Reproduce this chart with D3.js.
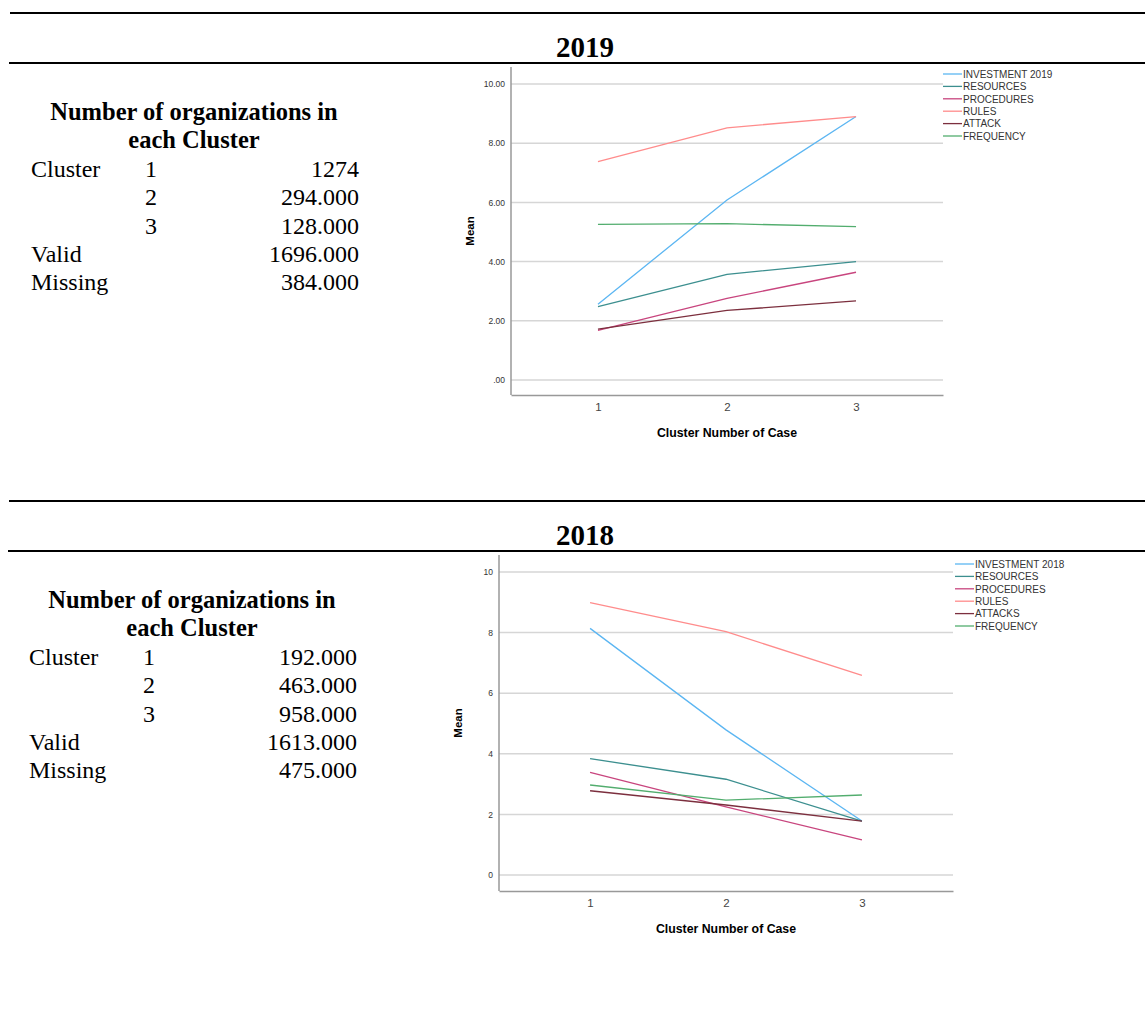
<!DOCTYPE html>
<html><head><meta charset="utf-8">
<script src="https://cdn.jsdelivr.net/npm/d3@7"></script>
<style>body{margin:0;background:#fff}</style>
</head><body>
<svg id="c" width="1145" height="1026"></svg>
<script>
const clusters = [1, 2, 3];
const seriesNames2019 = ["INVESTMENT 2019","RESOURCES","PROCEDURES","RULES","ATTACK","FREQUENCY"];
const seriesNames2018 = ["INVESTMENT 2018","RESOURCES","PROCEDURES","RULES","ATTACKS","FREQUENCY"];
const colors = ["#5cb6f2","#3c8f8f","#c8457e","#ff8c8c","#7c2f3e","#52ad6e"];
const investment2019 = [2.56, 6.08, 8.9];
const resources2019  = [2.48, 3.57, 4.0];
const procedures2019 = [1.68, 2.76, 3.64];
const rules2019      = [7.38, 8.52, 8.9];
const attack2019     = [1.72, 2.35, 2.67];
const frequency2019  = [5.26, 5.28, 5.18];
const investment2018 = [8.14, 4.79, 1.78];
const resources2018  = [3.84, 3.16, 1.78];
const procedures2018 = [3.39, 2.25, 1.16];
const rules2018      = [8.99, 8.03, 6.59];
const attacks2018    = [2.78, 2.31, 1.78];
const frequency2018  = [2.97, 2.47, 2.64];
const yTicks2019 = [0, 2, 4, 6, 8, 10];
const yTicks2018 = [0, 2, 4, 6, 8, 10];
const tableLabels = ["Cluster", "", "", "Valid", "Missing"];
const tableNums = ["1", "2", "3", "", ""];
const tableVals2019 = ["1274", "294.000", "128.000", "1696.000", "384.000"];
const tableVals2018 = ["192.000", "463.000", "958.000", "1613.000", "475.000"];

const svg = d3.select("#c");
const serif = "'Liberation Serif','Times New Roman',serif";
const sans = "Arial,'Liberation Sans',sans-serif";

function section(o) {
  const g = svg.append("g");
  g.append("line").attr("x1", o.r1x).attr("x2", 1145).attr("y1", o.r1y).attr("y2", o.r1y).attr("stroke", "#000").attr("stroke-width", 2);
  g.append("line").attr("x1", o.r2x).attr("x2", 1145).attr("y1", o.r2y).attr("y2", o.r2y).attr("stroke", "#000").attr("stroke-width", 2);
  g.append("text").attr("x", 585).attr("y", o.titleY).attr("text-anchor", "middle")
    .attr("font-family", serif).attr("font-weight", "bold").attr("font-size", 29).text(o.title);
  g.append("text").attr("x", o.tcx).attr("y", o.th1).attr("text-anchor", "middle").attr("font-family", serif)
    .attr("font-weight", "bold").attr("font-size", 24.5).text("Number of organizations in");
  g.append("text").attr("x", o.tcx).attr("y", o.th1 + 28).attr("text-anchor", "middle").attr("font-family", serif)
    .attr("font-weight", "bold").attr("font-size", 24.5).text("each Cluster");
  tableLabels.forEach((l, i) => {
    const y = o.row0 + i * 28.3;
    g.append("text").attr("x", o.tlx).attr("y", y).attr("font-family", serif).attr("font-size", 24).text(l);
    g.append("text").attr("x", o.tnx).attr("y", y).attr("font-family", serif).attr("font-size", 24).text(tableNums[i]);
    g.append("text").attr("x", o.tvx).attr("y", y).attr("text-anchor", "end").attr("font-family", serif).attr("font-size", 24).text(o.vals[i]);
  });
  const x = d3.scalePoint().domain(clusters).range([o.x0, o.x1]).padding(o.pad);
  const y = d3.scaleLinear().domain([0, 10]).range([o.y0v, o.y10v]);
  g.append("g").selectAll("line").data(o.yTicks).join("line")
    .attr("x1", o.x0).attr("x2", o.x1).attr("y1", d => y(d)).attr("y2", d => y(d))
    .attr("stroke", "#d6d6d6").attr("stroke-width", 1.5);
  const ya = g.append("g").attr("transform", `translate(${o.x0},0)`)
    .call(d3.axisLeft(y).tickValues(o.yTicks).tickSize(0).tickPadding(6).tickFormat(o.fmt));
  ya.select(".domain").remove();
  ya.selectAll("text").attr("font-family", sans).attr("font-size", 8.5).attr("fill", "#333");
  g.append("line").attr("x1", o.x0).attr("x2", o.x0).attr("y1", o.axTop).attr("y2", o.axBot).attr("stroke", "#999").attr("stroke-width", 1.5);
  const xa = g.append("g").attr("transform", `translate(0,${o.axBot})`)
    .call(d3.axisBottom(x).tickSize(0).tickPadding(8));
  xa.select(".domain").attr("stroke", "#999").attr("stroke-width", 1.5);
  xa.selectAll("text").attr("font-family", sans).attr("font-size", 11.5).attr("fill", "#444");
  g.append("text").attr("transform", `translate(${o.x0 - 37},${(o.axTop + o.axBot) / 2}) rotate(-90)`)
    .attr("text-anchor", "middle").attr("font-family", sans).attr("font-weight", "bold").attr("font-size", 11.5).text("Mean");
  g.append("text").attr("x", x(2)).attr("y", o.axBot + 42).attr("text-anchor", "middle")
    .attr("font-family", sans).attr("font-weight", "bold").attr("font-size", 12.3).text("Cluster Number of Case");
  const line = d3.line().x((d, i) => x(clusters[i])).y(d => y(d));
  o.series.forEach((s, i) => {
    g.append("path").datum(s).attr("d", line).attr("fill", "none").attr("stroke", colors[i]).attr("stroke-width", 1.3);
  });
  o.names.forEach((n, i) => {
    const ly = o.legY + i * 12.4;
    g.append("line").attr("x1", o.legX).attr("x2", o.legX + 19).attr("y1", ly).attr("y2", ly).attr("stroke", colors[i]).attr("stroke-width", 1.3);
    g.append("text").attr("x", o.legX + 20).attr("y", ly + 3.7).attr("font-family", sans).attr("font-size", 10).attr("fill", "#333").text(n);
  });
}

section({
  r1x: 10, r1y: 13, r2x: 9, r2y: 63, title: "2019", titleY: 57,
  tcx: 194, th1: 120, row0: 177, tlx: 31, tnx: 145, tvx: 359, vals: tableVals2019,
  x0: 511, x1: 943, pad: 0.674, y0v: 380, y10v: 84, axTop: 67, axBot: 395,
  yTicks: yTicks2019, fmt: d => d === 0 ? ".00" : d3.format(".2f")(d),
  series: [investment2019, resources2019, procedures2019, rules2019, attack2019, frequency2019],
  names: seriesNames2019, legX: 943, legY: 74
});
section({
  r1x: 9, r1y: 501, r2x: 8, r2y: 551, title: "2018", titleY: 545,
  tcx: 192, th1: 608, row0: 665, tlx: 29, tnx: 143, tvx: 357, vals: tableVals2018,
  x0: 499, x1: 953, pad: 0.67, y0v: 875, y10v: 572, axTop: 555, axBot: 891,
  yTicks: yTicks2018, fmt: d => String(d),
  series: [investment2018, resources2018, procedures2018, rules2018, attacks2018, frequency2018],
  names: seriesNames2018, legX: 955, legY: 564
});
</script>
</body></html>
